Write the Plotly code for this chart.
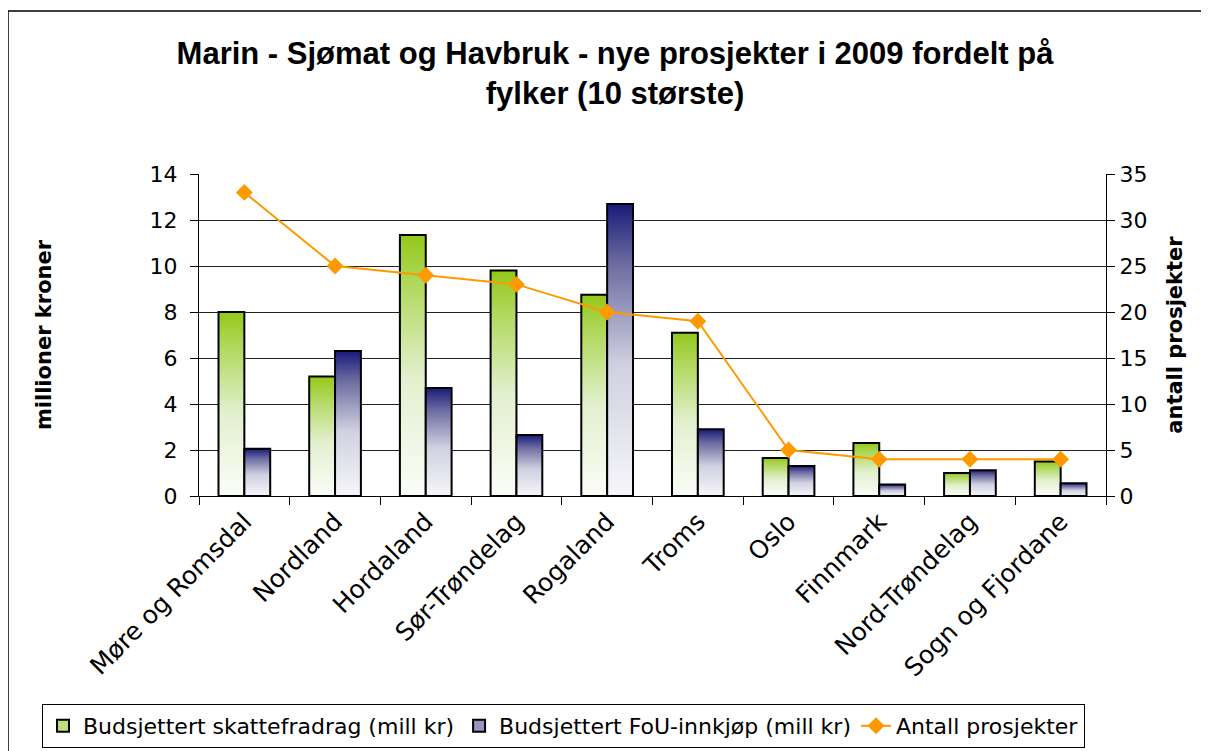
import plotly.graph_objects as go

categories = ["Møre og Romsdal", "Nordland", "Hordaland", "Sør-Trøndelag", "Rogaland",
              "Troms", "Oslo", "Finnmark", "Nord-Trøndelag", "Sogn og Fjordane"]
skattefradrag = [8.0, 5.2, 11.35, 9.8, 8.75, 7.1, 1.65, 2.3, 1.0, 1.5]
fou_innkjop = [2.05, 6.3, 4.7, 2.65, 12.7, 2.9, 1.3, 0.5, 1.12, 0.55]
antall = [33, 25, 24, 23, 20, 19, 5, 4, 4, 4]

names = ["Budsjettert skattefradrag (mill kr)", "Budsjettert FoU-innkjøp (mill kr)", "Antall prosjekter"]
green_scale = [[0, "#FBFDF8"], [0.45, "#E2F0CF"], [0.8, "#B2D960"], [1, "#94C81A"]]
blue_scale = [[0, "#F6F6FA"], [0.45, "#D0D0E0"], [0.8, "#6A6AA0"], [1, "#1A1A7A"]]
legend_colors = ["#BFE07E", "#9595BF"]

FONT = "DejaVu Sans, Arial, sans-serif"
TFONT = "Liberation Sans, Arial, sans-serif"
W, H = 1201, 743
L, R, T, B = 191, 103, 166, 255
pw, ph = W - L - R, H - T - B

bar_w = 0.285
fig = go.Figure()

# legend entries for the two bar series
for s in range(2):
    fig.add_trace(go.Bar(x=[None], y=[None], name=names[s],
                         marker=dict(color=legend_colors[s], line=dict(color="black", width=2)),
                         legendrank=s + 1, showlegend=True))

for s, (vals, scale, name) in enumerate([(skattefradrag, green_scale, names[0]),
                                          (fou_innkjop, blue_scale, names[1])]):
    for i, v in enumerate(vals):
        x0 = i - bar_w + s * bar_w
        x1 = x0 + bar_w
        fig.add_trace(go.Scatter(
            x=[x0, x0, x1, x1, x0], y=[0, v, v, 0, 0],
            mode="lines", fill="toself",
            fillgradient=dict(type="vertical", colorscale=scale, start=0, stop=v),
            line=dict(color="black", width=2),
            name=name, showlegend=False,
            hovertemplate=f"{categories[i]}: %{{y}}<extra>{name}</extra>",
        ))

fig.add_trace(go.Scatter(
    x=list(range(len(categories))), y=antall, yaxis="y2",
    mode="lines+markers", name=names[2], legendrank=3,
    line=dict(color="#FF9900", width=2),
    marker=dict(symbol="diamond", size=13, color="#FF9900"),
))

fig.update_layout(
    width=W, height=H,
    margin=dict(l=L, r=R, t=T, b=B, autoexpand=False),
    paper_bgcolor="white", plot_bgcolor="white",
    font=dict(family=FONT, size=22, color="black"),
    title=dict(text="<b>Marin - Sjømat og Havbruk - nye prosjekter i 2009 fordelt på<br>fylker (10 største)</b>",
               x=607 / W, xanchor="center", xref="container", y=1 - 56 / H, yanchor="middle",
               font=dict(size=31, family=TFONT)),
    xaxis=dict(range=[-0.5, len(categories) - 0.5],
               tickvals=list(range(len(categories))), ticktext=categories,
               tickangle=-45, ticks="", showgrid=False, zeroline=False,
               showline=True, linecolor="black", linewidth=1,
               minor=dict(tick0=0.5, dtick=1, ticks="outside", ticklen=8, tickcolor="black", showgrid=False),
               tickfont=dict(size=25), fixedrange=True),
    yaxis=dict(range=[0, 14], dtick=2, showgrid=True, gridcolor="#222222", gridwidth=1,
               zeroline=False, showline=True, linecolor="black", linewidth=1,
               ticks="outside", ticklen=8, tickcolor="black", ticklabelstandoff=8,
               title=dict(text="<b>millioner kroner</b>", font=dict(size=21), standoff=92),
               tickfont=dict(size=22)),
    yaxis2=dict(range=[0, 35], dtick=5, overlaying="y", side="right", showgrid=False,
                zeroline=False, showline=True, linecolor="black", linewidth=1,
                ticks="outside", ticklen=8, tickcolor="black",
                title=dict(text="<b>antall prosjekter</b>", font=dict(size=21), standoff=20),
                tickfont=dict(size=22)),
    legend=dict(orientation="h", x=(34 - L) / pw, xanchor="left", xref="paper",
                y=-(696 - (H - B)) / ph, yanchor="top", yref="paper",
                bordercolor="black", borderwidth=1, font=dict(size=22),
                traceorder="normal", itemwidth=30),
    shapes=[dict(type="rect", xref="paper", yref="paper",
                 x0=-L / pw, x1=1 + (R + 20) / pw,
                 y0=-(B + 20) / ph, y1=1 + (T - 3) / ph,
                 line=dict(color="black", width=1.5))],
    showlegend=True,
)

fig.write_html("out.html")
